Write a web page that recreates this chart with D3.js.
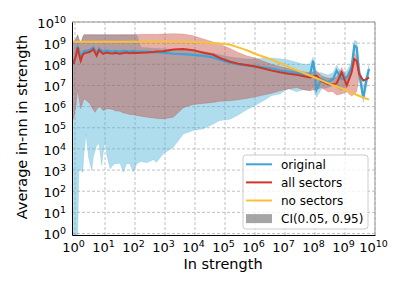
<!DOCTYPE html>
<html lang="en">
<head>
<meta charset="utf-8">
<script src="https://cdn.jsdelivr.net/npm/d3@7"></script>
<style>
  body { margin: 0; background: #fff; }
  text { font-family: "DejaVu Sans", sans-serif; fill: #000; }
</style>
</head>
<body>
<svg id="chart" width="407" height="291"></svg>
<script>
// all values are log10 exponents
var strengthExp = [-0.05, 0.03, 0.09, 0.13, 0.19, 0.26, 0.3, 0.37, 0.45, 0.5, 0.56, 0.61, 0.67, 0.72, 0.8, 0.89, 0.94,
  1.0, 1.06, 1.17, 1.28, 1.33, 1.5, 1.61, 1.72, 1.83, 1.94, 2.06, 2.2, 2.39, 2.61, 2.72, 2.94, 3.28, 3.61, 3.94,
  4.28, 4.61, 4.83, 5.17, 5.44, 5.72, 6.0, 6.28, 6.56, 6.83, 7.11, 7.39, 7.6, 7.83, 7.94, 8.05, 8.22, 8.43, 8.6,
  8.72, 8.89, 9.06, 9.22, 9.31, 9.39, 9.47, 9.61, 9.72, 9.8];

var originalExp = [8.05, 8.4, 8.85, 8.7, 8.3, 8.55, 8.62, 8.65, 8.66, 8.68, 8.74, 8.8, 8.65, 8.5, 8.75, 8.64, 8.6,
  8.63, 8.65, 8.62, 8.6, 8.63, 8.6, 8.64, 8.62, 8.6, 8.63, 8.6, 8.6, 8.6, 8.58, 8.57, 8.55, 8.5, 8.48, 8.45,
  8.4, 8.32, 8.22, 8.08, 8.0, 7.95, 7.9, 7.86, 7.8, 7.72, 7.65, 7.6, 7.55, 7.5, 8.17, 6.8, 7.3, 7.15, 7.3,
  7.7, 7.3, 7.38, 7.85, 8.88, 8.8, 7.62, 6.4, 7.3, 7.78];
var originalLoExp = [-0.07, -0.07, -0.07, 3.0, 2.98, 2.9, 3.8, 4.71, 3.6, 3.3, 2.98, 3.6, 3.9, 4.16, 4.24, 3.22, 3.8,
  4.4, 3.7, 3.06, 3.25, 3.3, 3.32, 2.9, 3.3, 3.3, 2.9, 3.3, 3.4, 3.35, 3.49, 3.37, 3.77, 4.08, 4.71, 4.87,
  4.95, 5.18, 5.34, 5.4, 5.6, 5.85, 6.05, 6.28, 6.52, 6.6, 6.85, 6.7, 6.8, 6.76, 6.9, 6.44, 6.83, 6.9, 7.0,
  6.9, 6.76, 7.0, 7.5, 8.6, 8.5, 7.3, 6.2, 7.0, 7.6];
var originalHiExp = [9.0, 9.2, 9.4, 9.2, 9.0, 9.3, 9.4, 9.4, 9.4, 9.4, 9.4, 9.4, 9.4, 9.4, 9.4, 9.4, 9.4,
  9.4, 9.4, 9.4, 9.4, 9.4, 9.4, 9.4, 9.4, 9.4, 9.4, 9.4, 8.8, 8.78, 8.76, 8.75, 8.73, 8.7, 8.68, 8.65,
  8.6, 8.52, 8.45, 8.35, 8.3, 8.25, 8.25, 8.3, 8.3, 8.26, 8.2, 8.1, 8.0, 8.0, 8.35, 7.6, 7.6, 7.5, 7.6,
  7.95, 7.6, 7.7, 8.1, 9.12, 9.1, 8.0, 6.9, 7.6, 7.95];

var allSectorsExp = [8.01, 8.4, 8.8, 8.5, 8.17, 8.45, 8.51, 8.55, 8.57, 8.59, 8.65, 8.72, 8.55, 8.41, 8.67, 8.55, 8.49,
  8.53, 8.56, 8.52, 8.51, 8.54, 8.5, 8.53, 8.56, 8.52, 8.55, 8.54, 8.55, 8.56, 8.58, 8.6, 8.62, 8.7, 8.72, 8.67,
  8.55, 8.45, 8.3, 8.12, 8.03, 7.97, 7.9, 7.8, 7.7, 7.62, 7.55, 7.51, 7.45, 7.38, 7.42, 7.46, 7.2, 7.07, 7.05,
  7.1, 7.62, 7.0, 7.62, 8.25, 8.17, 7.54, 7.23, 7.3, 7.38];
var allSectorsLoExp = [5.4, 6.0, 6.8, 6.4, 5.9, 6.2, 6.36, 6.3, 6.2, 6.13, 5.95, 5.85, 5.73, 5.85, 6.0, 5.9, 5.81,
  5.85, 5.9, 5.89, 5.85, 5.8, 5.78, 5.7, 5.68, 5.61, 5.62, 5.58, 5.55, 5.5, 5.46, 5.44, 5.42, 5.5, 5.95, 6.1,
  6.15, 6.2, 6.25, 6.28, 6.32, 6.38, 6.45, 6.55, 6.63, 6.75, 6.83, 6.9, 6.8, 6.75, 6.78, 6.8, 6.9, 6.7, 6.7,
  6.55, 6.6, 6.7, 6.5, 6.6, 6.7, 7.4, 7.23, 7.3, 7.38];
var allSectorsHiExp = [9.1, 9.2, 9.4, 9.2, 9.0, 9.3, 9.4, 9.4, 9.4, 9.4, 9.4, 9.4, 9.4, 9.4, 9.4, 9.4, 9.4,
  9.4, 9.4, 9.4, 9.4, 9.4, 9.4, 9.4, 9.4, 9.4, 9.4, 9.4, 9.42, 9.42, 9.42, 9.42, 9.43, 9.45, 9.43, 9.35,
  9.2, 9.05, 8.95, 8.75, 8.56, 8.4, 8.3, 8.15, 8.0, 7.9, 7.8, 7.7, 7.65, 7.6, 7.65, 7.7, 7.45, 7.35, 7.35,
  7.4, 7.85, 7.3, 7.8, 8.55, 8.4, 7.7, 7.23, 7.3, 7.38];

var noSectorsStrengthExp = [-0.05, 1, 2, 3, 3.8, 4.3, 4.8, 5.17, 5.44, 5.75, 6.0, 6.5, 7.0, 7.4, 7.95, 8.45, 9.0, 9.4, 9.8];
var noSectorsExp = [9.07, 9.07, 9.07, 9.07, 9.06, 9.03, 8.98, 8.92, 8.8, 8.65, 8.5, 8.25, 7.95, 7.72, 7.4, 7.1, 6.8, 6.55, 6.33];

var tickExp = [0, 1, 2, 3, 4, 5, 6, 7, 8, 9, 10];
var legendLabels = ["original", "all sectors", "no sectors", "CI(0.05, 0.95)"];

var blue = "#3ea3d3", red = "#cf3528", yellow = "#f9c137";

var svg = d3.select("#chart");
var plotL = 72, plotR = 375, plotT = 22, plotB = 235;

var x = d3.scaleLog().domain([Math.pow(10, -0.1), 1e10]).range([plotL, plotR]);
var y = d3.scaleLog().domain([Math.pow(10, -0.07), 1e10]).range([plotB, plotT]);

function rows(xs, a, b, c) {
  return xs.map(function(e, i) {
    return { s: Math.pow(10, e), v: Math.pow(10, a[i]), lo: b ? Math.pow(10, b[i]) : 0, hi: c ? Math.pow(10, c[i]) : 0 };
  });
}
var original = rows(strengthExp, originalExp, originalLoExp, originalHiExp);
var allSectors = rows(strengthExp, allSectorsExp, allSectorsLoExp, allSectorsHiExp);
var noSectors = rows(noSectorsStrengthExp, noSectorsExp);

// grid
var ticks = tickExp.map(function(e) { return Math.pow(10, e); });
svg.append("g").selectAll("line").data(ticks).enter().append("line")
  .attr("x1", function(d) { return x(d); }).attr("x2", function(d) { return x(d); })
  .attr("y1", plotT).attr("y2", plotB)
  .attr("stroke", "#b0b0b0").attr("stroke-width", 0.8).attr("stroke-dasharray", "3,2");
svg.append("g").selectAll("line").data(ticks).enter().append("line")
  .attr("y1", function(d) { return y(d); }).attr("y2", function(d) { return y(d); })
  .attr("x1", plotL).attr("x2", plotR)
  .attr("stroke", "#b0b0b0").attr("stroke-width", 0.8).attr("stroke-dasharray", "3,2");

// confidence bands
var band = d3.area().x(function(d) { return x(d.s); })
  .y0(function(d) { return y(d.lo); }).y1(function(d) { return y(d.hi); });
svg.append("path").datum(original).attr("d", band)
  .attr("fill", "#4fb3d6").attr("fill-opacity", 0.45)
  .attr("stroke", "#4fb3d6").attr("stroke-opacity", 0.3).attr("stroke-width", 0.7);
svg.append("path").datum(allSectors).attr("d", band)
  .attr("fill", "#c0392b").attr("fill-opacity", 0.4)
  .attr("stroke", "#c0392b").attr("stroke-opacity", 0.3).attr("stroke-width", 0.7);

// lines
var line = d3.line().x(function(d) { return x(d.s); }).y(function(d) { return y(d.v); });
svg.append("path").datum(original).attr("d", line)
  .attr("fill", "none").attr("stroke", blue).attr("stroke-width", 2.2);
svg.append("path").datum(allSectors).attr("d", line)
  .attr("fill", "none").attr("stroke", red).attr("stroke-width", 2);
svg.append("path").datum(noSectors).attr("d", line.curve(d3.curveMonotoneX))
  .attr("fill", "none").attr("stroke", yellow).attr("stroke-width", 2);

// spines
svg.append("line").attr("x1", plotL).attr("x2", plotR).attr("y1", plotT).attr("y2", plotT).attr("stroke", "#999");
svg.append("line").attr("x1", plotR).attr("x2", plotR).attr("y1", plotT).attr("y2", plotB).attr("stroke", "#999");

// axes
function powerLabel(sel) {
  sel.selectAll(".tick text").each(function(d) {
    var t = d3.select(this).text("");
    t.append("tspan").text("10");
    t.append("tspan").attr("dy", "-0.5em").attr("font-size", "9.5px").text(Math.round(Math.log10(d)));
  });
}
var yAxis = svg.append("g").attr("transform", "translate(" + plotL + ",0)")
  .call(d3.axisLeft(y).tickValues(ticks).tickSize(0).tickPadding(6).tickFormat(function() { return ""; }))
  .call(powerLabel);
yAxis.selectAll(".tick text").attr("font-size", "13px").attr("font-family", "DejaVu Sans").attr("dy", "0.4em");
yAxis.select(".domain").attr("stroke", "#000");

var xAxis = svg.append("g").attr("transform", "translate(0," + plotB + ")")
  .call(d3.axisBottom(x).tickValues(ticks).tickSize(0).tickPadding(8).tickFormat(function() { return ""; }))
  .call(powerLabel);
xAxis.selectAll(".tick text").attr("font-size", "13px").attr("font-family", "DejaVu Sans")
  .attr("dy", "0.71em").attr("x", -2);
xAxis.select(".domain").attr("stroke", "#000");

svg.append("text").attr("x", 223).attr("y", 269).attr("text-anchor", "middle")
  .attr("font-size", "14.5px").text("In strength");
svg.append("text").attr("transform", "translate(27,127) rotate(-90)").attr("text-anchor", "middle")
  .attr("font-size", "14.5px").text("Average in-nn in strength");

// legend
var lg = svg.append("g").attr("transform", "translate(243,155)");
lg.append("rect").attr("width", 125).attr("height", 74).attr("rx", 3)
  .attr("fill", "#fff").attr("fill-opacity", 0.8).attr("stroke", "#ccc");
var legendColors = [blue, red, yellow];
legendLabels.forEach(function(name, i) {
  var cy = 9.3 + i * 18.1;
  if (i < 3) {
    lg.append("line").attr("x1", 3).attr("x2", 29).attr("y1", cy).attr("y2", cy)
      .attr("stroke", legendColors[i]).attr("stroke-width", 2);
  } else {
    lg.append("rect").attr("x", 3).attr("y", cy - 4.5).attr("width", 26).attr("height", 9)
      .attr("fill", "#7f7f7f").attr("fill-opacity", 0.7);
  }
  lg.append("text").attr("x", 38).attr("y", cy + 4.2).attr("font-size", "12px").text(name);
});
</script>
</body>
</html>
